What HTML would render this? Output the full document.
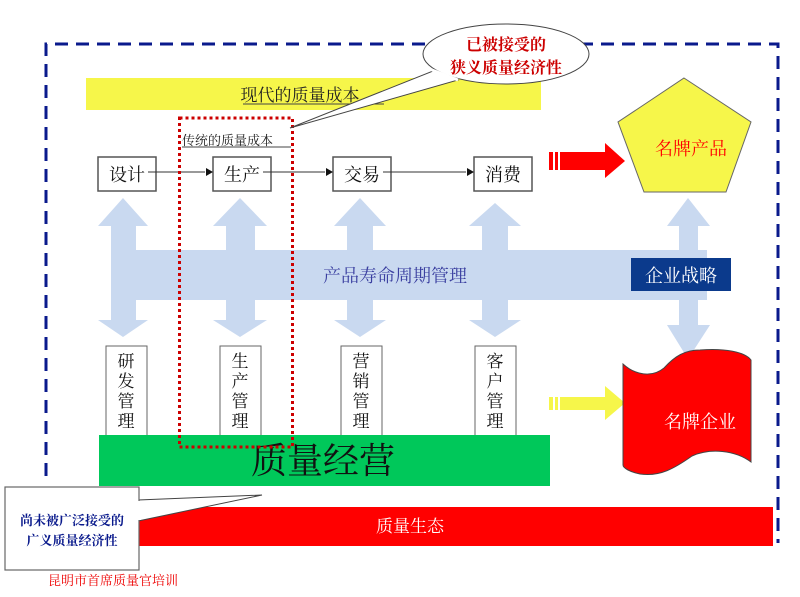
<!DOCTYPE html>
<html><head><meta charset="utf-8"><style>
html,body{margin:0;padding:0;background:#fff;width:800px;height:597px;overflow:hidden}
svg{display:block}
text{font-family:"Liberation Serif","Noto Serif CJK SC","Noto Sans CJK SC",serif}
</style></head><body>
<svg width="800" height="597" viewBox="0 0 800 597" xmlns="http://www.w3.org/2000/svg">
<!-- dashed border -->
<path d="M46,476 V44 H778 V543" fill="none" stroke="#0a1a8c" stroke-width="3" stroke-dasharray="13,8"/>
<!-- yellow bar -->
<rect x="86" y="78" width="455" height="32" fill="#f6f64a"/>
<text x="300" y="101" font-size="17" text-anchor="middle" fill="#222">现代的质量成本</text>
<line x1="243" y1="104" x2="384" y2="104" stroke="#444" stroke-width="1"/>
<!-- light blue arrows -->
<g fill="#c9d9f0">
<rect x="111" y="250" width="596" height="50"/>
<path d="M98,226 L123,198 L148,226 L136,226 L136,320 L148,320 L123,337 L98,320 L111,320 L111,226Z"/>
<path d="M213,226 L240,198 L267,226 L255,226 L255,320 L267,320 L240,337 L213,320 L226,320 L226,226Z"/>
<path d="M334,226 L360,198 L386,226 L373,226 L373,320 L386,320 L360,337 L334,320 L347,320 L347,226Z"/>
<path d="M469,226 L495,203 L521,226 L508,226 L508,320 L521,320 L495,337 L469,320 L482,320 L482,226Z"/>
<path d="M667,226 L688,198 L710,226 L698,226 L698,325 L710,325 L688,359 L667,325 L679,325 L679,226Z"/>
</g>
<text x="395" y="282" font-size="18" text-anchor="middle" fill="#3a3fa0">产品寿命周期管理</text>
<rect x="631" y="258" width="100" height="33" fill="#0b3a8c"/>
<text x="681" y="282" font-size="18" text-anchor="middle" fill="#fff">企业战略</text>
<!-- process boxes -->
<g fill="#fff" stroke="#555" stroke-width="1.5">
<rect x="98" y="157" width="58" height="34"/>
<rect x="213" y="157" width="58" height="34"/>
<rect x="333" y="157" width="58" height="34"/>
<rect x="474" y="157" width="58" height="34"/>
</g>
<g stroke="#333" stroke-width="1">
<line x1="148" y1="172" x2="205" y2="172"/>
<line x1="263" y1="172" x2="325" y2="172"/>
<line x1="383" y1="172" x2="466" y2="172"/>
</g>
<g fill="#111">
<path d="M213,172 l-7,-4 v8z"/><path d="M333,172 l-7,-4 v8z"/><path d="M474,172 l-7,-4 v8z"/>
</g>
<g font-size="18" text-anchor="middle" fill="#111">
<text x="127" y="181">设计</text><text x="242" y="181">生产</text><text x="362" y="181">交易</text><text x="503" y="181">消费</text>
</g>
<!-- red arrow -->
<path d="M549,152 H605 V143 L625,161 L605,178 V170 H549Z" fill="#f00"/>
<rect x="553" y="152" width="2" height="18" fill="#fff"/><rect x="558" y="152" width="2" height="18" fill="#fff"/>
<!-- pentagon -->
<polygon points="684,78 751,122 726,192 644,192 618,122" fill="#f6f64a" stroke="#666" stroke-width="1"/>
<text x="691" y="155" font-size="18" text-anchor="middle" fill="#f00">名牌产品</text>
<!-- vertical boxes -->
<g fill="#fff" stroke="#666" stroke-width="1">
<rect x="106" y="346" width="41" height="90"/>
<rect x="220" y="346" width="41" height="90"/>
<rect x="341" y="346" width="41" height="90"/>
<rect x="475" y="346" width="41" height="90"/>
</g>
<g font-size="17" text-anchor="middle" fill="#111">
<text x="126" y="367">研</text><text x="126" y="387">发</text><text x="126" y="407">管</text><text x="126" y="427">理</text>
<text x="240" y="367">生</text><text x="240" y="387">产</text><text x="240" y="407">管</text><text x="240" y="427">理</text>
<text x="361" y="367">营</text><text x="361" y="387">销</text><text x="361" y="407">管</text><text x="361" y="427">理</text>
<text x="495" y="367">客</text><text x="495" y="387">户</text><text x="495" y="407">管</text><text x="495" y="427">理</text>
</g>
<!-- green -->
<rect x="99" y="435" width="451" height="51" fill="#00c85a"/>
<text x="323" y="473" font-size="36" text-anchor="middle" fill="#111">质量经营</text>
<!-- yellow arrow -->
<path d="M549,397 H605 V386 L625,403 L605,420 V410 H549Z" fill="#f6f64a"/>
<rect x="553" y="397" width="2" height="13" fill="#fff"/><rect x="558" y="397" width="2" height="13" fill="#fff"/>
<!-- flag -->
<path d="M623,364 C635,375 652,378 664,368 C675,356 685,350 700,350 C725,348 745,352 751,360 V462 C735,450 710,448 692,456 C675,468 660,477 640,474 C630,472 623,468 623,465Z" fill="#f00" stroke="#444" stroke-width="1"/>
<text x="700" y="428" font-size="18" text-anchor="middle" fill="#fff">名牌企业</text>
<!-- red bottom bar -->
<rect x="139" y="507" width="634" height="39" fill="#f00"/>
<text x="410" y="532" font-size="17" text-anchor="middle" fill="#fff">质量生态</text>
<!-- dotted red rect -->
<rect x="179.5" y="118" width="113" height="329" fill="none" stroke="#c00" stroke-width="3" stroke-dasharray="3,3"/>
<text x="182" y="145" font-size="13" fill="#222">传统的质量成本</text>
<line x1="182" y1="147" x2="291" y2="147" stroke="#444" stroke-width="1"/>
<!-- callout ellipse -->
<path d="M290,128 L433,71 L458,80Z" fill="#fff" stroke="#444" stroke-width="1"/>
<ellipse cx="506" cy="54" rx="83" ry="30" fill="#fff" stroke="#444" stroke-width="1"/>
<path d="M432,70 L458,80" stroke="#fff" stroke-width="3"/>
<text x="506" y="50" font-size="16" font-weight="bold" text-anchor="middle" fill="#c00">已被接受的</text>
<text x="506" y="73" font-size="16" font-weight="bold" text-anchor="middle" fill="#c00">狭义质量经济性</text>
<!-- callout box -->
<path d="M138,500 L262,495 L138,521Z" fill="#fff" stroke="#444" stroke-width="1"/>
<rect x="5" y="487" width="134" height="83" fill="#fff" stroke="#666" stroke-width="1.2"/>
<rect x="137" y="501" width="4" height="19" fill="#fff"/>
<text x="72" y="525" font-size="13" font-weight="bold" text-anchor="middle" fill="#0a1a8c">尚未被广泛接受的</text>
<text x="72" y="545" font-size="13" font-weight="bold" text-anchor="middle" fill="#0a1a8c">广义质量经济性</text>
<text x="48" y="585" font-size="13" fill="#e00">昆明市首席质量官培训</text>
</svg>
</body></html>
